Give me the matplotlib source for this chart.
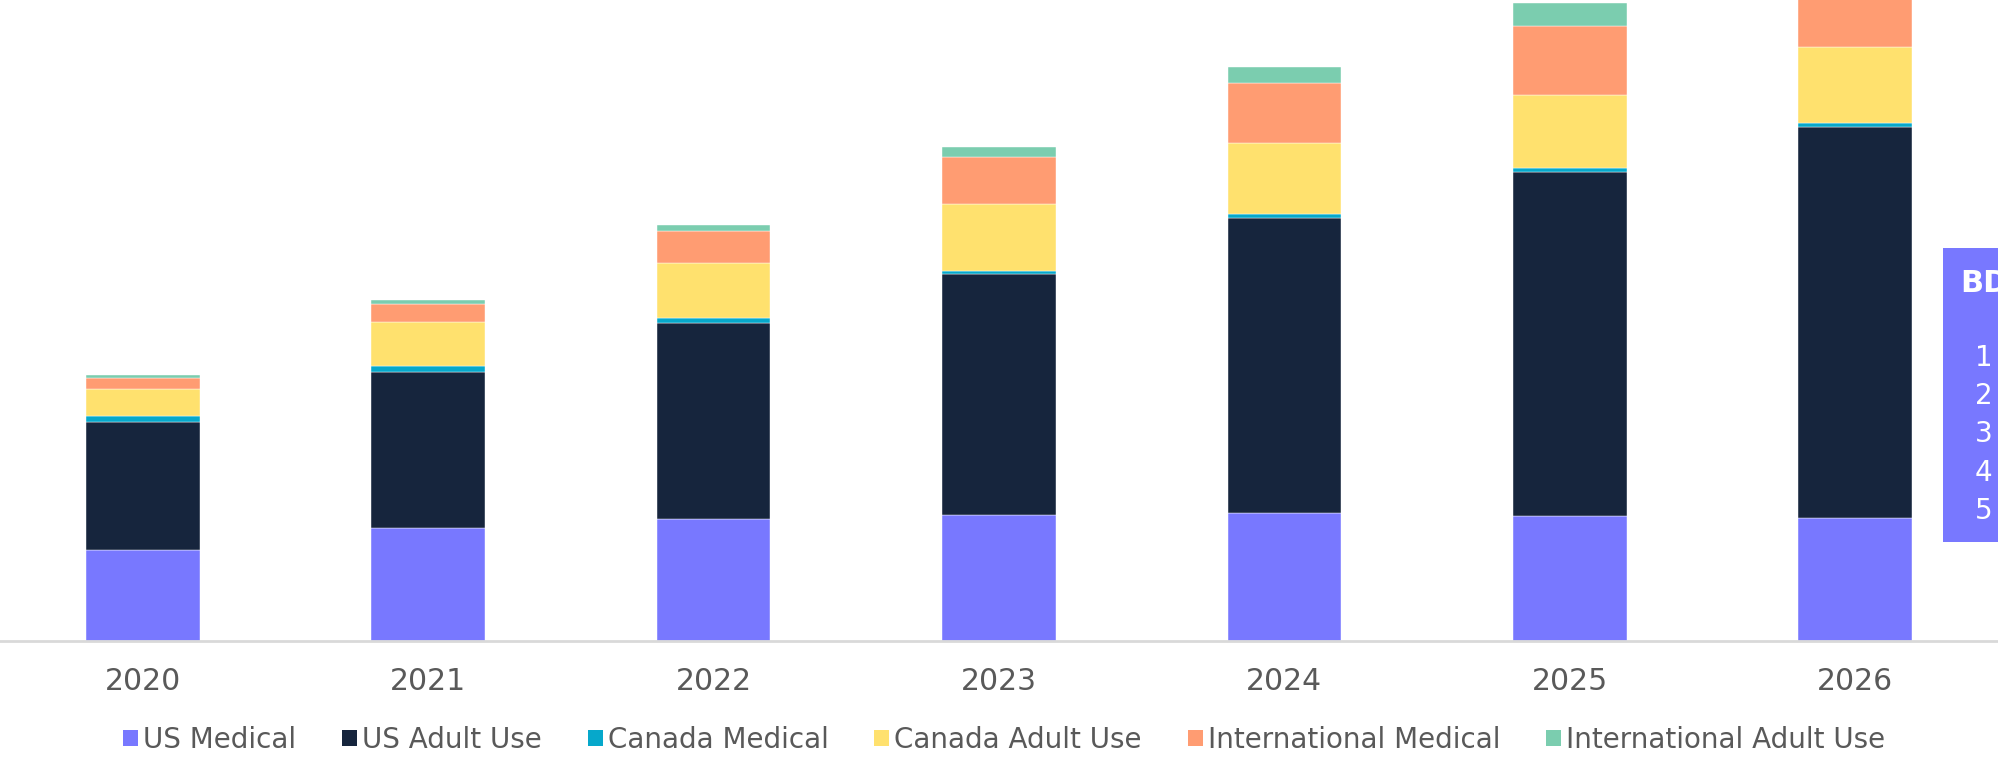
import matplotlib
matplotlib.use("Agg")
import matplotlib.pyplot as plt
from matplotlib.patches import Patch, Rectangle
import numpy as np

years = ["2020", "2021", "2022", "2023", "2024", "2025", "2026"]
series_names = ["US Medical", "US Adult Use", "Canada Medical", "Canada Adult Use",
                "International Medical", "International Adult Use"]
us_medical = [8.27, 10.25, 11.06, 11.45, 11.64, 11.36, 11.18]
us_adult = [11.61, 14.24, 17.87, 21.91, 26.82, 31.27, 35.58]
canada_medical = [0.57, 0.49, 0.43, 0.30, 0.34, 0.36, 0.31]
canada_adult = [2.43, 4.00, 5.03, 6.06, 6.45, 6.67, 6.97]
intl_medical = [1.00, 1.69, 2.85, 4.27, 5.45, 6.24, 7.09]
intl_adult = [0.27, 0.31, 0.55, 0.91, 1.45, 2.06, 2.55]
box_title = "BD"
box_items = ["1", "2", "3", "4", "5"]

colors = ["#7878FF", "#16253D", "#06A8CB", "#FFE16E", "#FF9C72", "#7BCDAF"]
series = [us_medical, us_adult, canada_medical, canada_adult, intl_medical, intl_adult]

plt.rcParams['font.family'] = ['DejaVu Sans']
W, H = 1998, 757
fig = plt.figure(figsize=(W / 100, H / 100), dpi=100)
ax = fig.add_axes([0, (H - 641) / H, 1, 641 / H])

x = np.arange(len(years))
bottom = np.zeros(len(years))
for vals, c, name in zip(series, colors, series_names):
    ax.bar(x, vals, width=0.398, bottom=bottom, color=c, label=name,
           edgecolor="white", linewidth=0.3, clip_on=True)
    bottom += np.array(vals)

ax.set_xlim(-0.5, 6.5)
ax.set_ylim(0, 641 / 11)
ax.set_xticks(x)
ax.set_xticklabels(years, fontsize=21.5, color="#595959")
ax.tick_params(axis="x", length=0, pad=19)
ax.set_yticks([])
for s in ["top", "left", "right"]:
    ax.spines[s].set_visible(False)
ax.spines["bottom"].set_color("#D9D9D9")
ax.spines["bottom"].set_linewidth(2)
ax.patch.set_alpha(0)

handles = [Patch(facecolor=c, edgecolor="none") for c in colors]
fig.legend(handles, series_names, loc="center", bbox_to_anchor=(0.5025, (H - 740) / H),
           ncol=6, frameon=False, fontsize=20, labelcolor="#595959",
           handlelength=0.54, handleheight=0.54, handletextpad=0.18,
           columnspacing=1.65, borderpad=0, borderaxespad=0)

# side box (cropped at the right edge)
fig.patches.append(Rectangle((1943 / W, (H - 542) / H), 80 / W, 294 / H,
                             transform=fig.transFigure, facecolor="#7878FF",
                             edgecolor="none", zorder=5))
fig.text(1960 / W, (H - 284) / H, box_title, color="white", fontsize=22,
         fontweight="bold", va="center", ha="left", zorder=6)
for i, item in enumerate(box_items):
    yy = [358, 396, 434.5, 473, 511][i]
    fig.text(1975 / W, (H - yy) / H, item, color="white", fontsize=20,
             va="center", ha="left", zorder=6)

fig.savefig("out.png", dpi=100)
